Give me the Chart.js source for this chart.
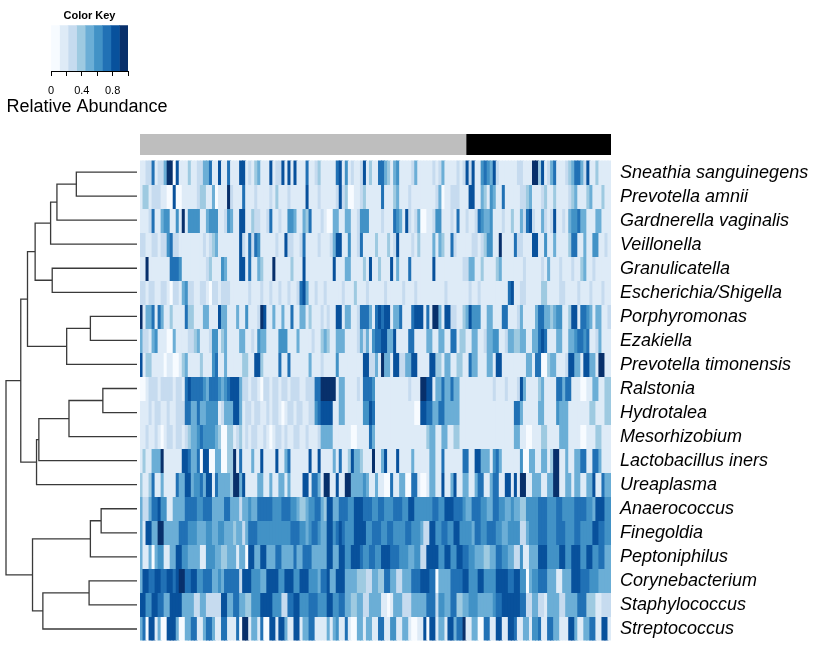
<!DOCTYPE html>
<html>
<head>
<meta charset="utf-8">
<script src="https://cdn.jsdelivr.net/npm/chart.js@4.4.0/dist/chart.umd.min.js"></script>
<style>
  html, body { margin: 0; padding: 0; background: #ffffff; }
  #wrap { position: relative; width: 829px; height: 650px; background: #ffffff; overflow: hidden; }
  canvas { position: absolute; }
</style>
</head>
<body>
<div id="wrap">
  <canvas id="key" width="174" height="121" style="left:0px;top:0px;width:174px;height:121px;"></canvas>
  <canvas id="annot" width="471" height="21" style="left:140px;top:134px;width:471px;height:21px;"></canvas>
  <canvas id="dendro" width="138" height="481" style="left:0px;top:160px;width:138px;height:481px;"></canvas>
  <canvas id="heat" width="689" height="481" style="left:140px;top:160px;width:689px;height:481px;"></canvas>
</div>
<script>
// ---------------- DATA ----------------
const rowLabels = [
  'Sneathia sanguinegens', 'Prevotella amnii', 'Gardnerella vaginalis', 'Veillonella',
  'Granulicatella', 'Escherichia/Shigella', 'Porphyromonas', 'Ezakiella',
  'Prevotella timonensis', 'Ralstonia', 'Hydrotalea', 'Mesorhizobium',
  'Lactobacillus iners', 'Ureaplasma', 'Anaerococcus', 'Finegoldia',
  'Peptoniphilus', 'Corynebacterium', 'Staphylococcus', 'Streptococcus'
];

// relative abundance per sample (columns), one array per taxon (row)
const sneathiaSanguinegens = [.2,.2,.3,.3,.7,.2,.3,.3,.5,.9,.9,.1,.8,.2,.2,.2,.4,.2,.2,.3,.3,.5,.5,.7,.2,.2,.8,.2,.2,.7,.2,
  .2,.2,.8,.8,.2,.3,.2,.4,.5,.2,.2,.2,.8,.2,.3,.3,.8,.2,.8,.2,.8,.2,.2,.2,.7,.2,.2,.3,.4,.2,.2,
  .2,.2,.2,.7,.8,.2,.6,.2,.3,.2,.2,.3,.8,.2,.4,.2,.2,.7,.7,.5,.4,.2,.5,.6,.2,.2,.2,.2,.3,.5,.2,
  .2,.2,.2,.2,.3,.2,.3,.5,.2,.2,.2,.2,.3,.2,.3,.8,.3,.8,.2,.2,.6,.7,.6,.5,.8,.3,.2,.2,.2,.2,.2,
  .2,.3,.3,.2,.2,.2,.9,.9,.4,.8,.2,.3,.5,.7,.2,.2,.2,.3,.4,.5,.7,.7,.5,.3,.8,.2,.2,.4,.2,.2,.2,.2];
const prevotellaAmnii = [.2,.4,.4,.2,.3,.3,.3,.2,.2,.1,.1,.8,.1,.1,.2,.2,.2,.2,.2,.3,.4,.4,.2,.2,.5,.1,.2,.2,.2,.9,.3,
  .2,.2,.2,.7,.2,.2,.2,.3,.2,.2,.2,.2,.3,.2,.4,.2,.2,.2,.3,.2,.2,.2,.2,.2,.8,.2,.2,.2,.3,.2,.2,
  .2,.2,.2,.3,.8,.3,.4,.1,.1,.2,.2,.3,.4,.2,.2,.2,.2,.2,.7,.2,.2,.2,.4,.5,.2,.2,.2,.3,.2,.2,.2,
  .2,.2,.2,.2,.2,.3,.5,.1,.2,.2,.3,.3,.3,.2,.2,.2,.8,.8,.2,.2,.5,.4,.2,.6,.5,.2,.2,.7,.2,.2,.2,
  .2,.2,.3,.3,.4,.5,.2,.2,.2,.3,.4,.2,.2,.4,.2,.2,.2,.2,.3,.4,.5,.2,.2,.2,.4,.5,.2,.2,.2,.4,.2,.2];
const gardnerellaVaginalis = [.2,.2,.2,.3,.7,.2,.2,.5,.6,.6,.2,.2,.6,.2,.9,.2,.6,.6,.6,.6,.2,.2,.5,.6,.6,.6,.2,.2,.3,.6,.5,
  .2,.2,.8,.8,.2,.2,.4,.3,.3,.2,.2,.3,.7,.2,.2,.3,.2,.2,.6,.6,.5,.2,.2,.5,.4,.7,.2,.2,.2,.3,.2,
  .1,.1,.5,.5,.2,.2,.5,.5,.2,.2,.3,.6,.6,.6,.2,.2,.2,.2,.3,.2,.2,.2,.7,.6,.5,.2,.8,.3,.2,.3,.5,
  .1,.1,.2,.2,.3,.6,.6,.2,.2,.2,.3,.2,.7,.2,.2,.3,.2,.2,.3,.7,.6,.5,.5,.6,.2,.2,.2,.3,.2,.2,.4,
  .2,.2,.5,.3,.7,.8,.3,.2,.2,.5,.3,.2,.3,.8,.2,.2,.3,.2,.5,.6,.6,.7,.5,.5,.2,.2,.2,.5,.5,.2,.2,.2];
const veillonella = [.3,.3,.2,.2,.3,.3,.2,.3,.3,.6,.7,.3,.3,.2,.2,.2,.2,.2,.2,.2,.2,.3,.2,.3,.4,.5,.2,.2,.2,.2,.2,
  .2,.2,.8,.3,.2,.7,.3,.7,.6,.2,.2,.2,.2,.2,.3,.2,.2,.8,.3,.3,.2,.2,.3,.7,.2,.2,.2,.2,.3,.2,.2,
  .2,.3,.5,.8,.8,.2,.2,.6,.2,.2,.3,.7,.2,.2,.2,.2,.4,.2,.2,.2,.4,.2,.3,.8,.2,.2,.2,.2,.3,.2,.4,
  .2,.2,.2,.2,.5,.2,.5,.4,.2,.2,.7,.3,.2,.2,.2,.2,.2,.3,.3,.2,.3,.4,.6,.6,.2,.2,.9,.2,.2,.2,.2,
  .7,.3,.3,.2,.2,.2,.8,.8,.2,.2,.6,.2,.2,.5,.2,.2,.2,.2,.4,.7,.7,.2,.2,.5,.2,.2,.6,.6,.2,.2,.3,.2];
const granulicatella = [.2,.2,.9,.2,.2,.2,.2,.2,.2,.2,.7,.7,.7,.6,.2,.2,.2,.2,.2,.2,.2,.2,.3,.4,.2,.2,.2,.6,.5,.2,.2,
  .2,.2,.8,.8,.2,.7,.2,.2,.5,.4,.2,.2,.2,.9,.2,.2,.2,.2,.2,.4,.2,.2,.2,.8,.2,.2,.2,.2,.2,.2,.2,
  .2,.2,.8,.2,.2,.2,.5,.5,.2,.2,.2,.2,.4,.2,.8,.2,.2,.4,.2,.2,.2,.8,.2,.5,.2,.2,.2,.7,.2,.2,.2,
  .2,.2,.2,.2,.8,.2,.2,.2,.2,.2,.2,.2,.2,.2,.3,.3,.5,.5,.2,.2,.4,.2,.2,.2,.2,.4,.5,.2,.2,.2,.2,
  .2,.2,.2,.3,.2,.2,.2,.2,.2,.3,.2,.5,.2,.2,.2,.3,.2,.2,.2,.3,.2,.2,.4,.5,.2,.2,.3,.2,.2,.2,.2,.2];
const escherichiaShigella = [.3,.3,.2,.3,.3,.2,.2,.3,.3,.2,.1,.3,.3,.2,.5,.6,.3,.3,.2,.2,.3,.3,.2,.1,.3,.3,.2,.3,.3,.3,.2,
  .2,.2,.2,.2,.2,.3,.2,.2,.2,.3,.2,.2,.3,.2,.2,.3,.2,.2,.3,.2,.2,.3,.7,.8,.5,.2,.2,.3,.2,.2,.3,
  .2,.2,.2,.2,.2,.3,.2,.2,.2,.4,.2,.2,.2,.3,.2,.2,.2,.2,.2,.3,.2,.2,.2,.2,.2,.3,.2,.2,.2,.3,.2,
  .2,.2,.2,.2,.2,.2,.2,.2,.3,.2,.2,.2,.2,.2,.2,.2,.3,.2,.2,.3,.2,.2,.2,.2,.2,.2,.2,.2,.2,.7,.8,
  .2,.2,.3,.3,.2,.2,.2,.2,.2,.4,.4,.2,.2,.2,.2,.3,.3,.2,.2,.2,.2,.3,.2,.2,.2,.3,.2,.2,.2,.3,.2,.2];
const porphyromonas = [.9,.2,.5,.5,.7,.2,.7,.5,.2,.2,.4,.2,.2,.2,.2,.7,.4,.4,.2,.2,.2,.5,.5,.2,.2,.2,.8,.5,.5,.2,.2,
  .2,.5,.2,.2,.6,.2,.2,.2,.3,.9,.8,.2,.2,.5,.2,.2,.5,.2,.2,.7,.2,.2,.5,.5,.2,.4,.2,.2,.2,.3,.2,
  .3,.2,.2,.8,.8,.2,.5,.5,.2,.2,.3,.7,.7,.7,.5,.2,.7,.8,.7,.8,.8,.2,.5,.5,.7,.2,.2,.2,.7,.8,.8,
  .8,.2,.7,.2,.9,.9,.5,.2,.8,.8,.3,.3,.2,.2,.4,.5,.8,.6,.6,.6,.2,.2,.5,.5,.2,.2,.2,.7,.7,.2,.2,
  .2,.3,.5,.2,.2,.2,.2,.5,.7,.7,.5,.5,.4,.5,.6,.6,.2,.2,.4,.8,.8,.2,.7,.7,.6,.5,.2,.5,.5,.2,.2,.3];
const ezakiella = [.5,.3,.3,.2,.5,.6,.2,.2,.2,.1,.1,.5,.2,.2,.2,.2,.3,.3,.4,.5,.2,.2,.2,.3,.6,.6,.2,.4,.5,.2,.2,
  .2,.2,.5,.5,.2,.2,.3,.2,.6,.5,.5,.2,.2,.2,.2,.6,.6,.6,.2,.2,.2,.5,.2,.2,.2,.2,.3,.2,.2,.4,.5,
  .4,.2,.2,.5,.5,.5,.2,.2,.2,.2,.3,.5,.3,.5,.2,.6,.7,.7,.8,.8,.5,.5,.8,.2,.2,.2,.2,.7,.7,.2,.2,
  .2,.2,.5,.5,.2,.2,.5,.5,.2,.2,.7,.7,.2,.4,.4,.2,.2,.5,.5,.2,.2,.3,.5,.5,.6,.6,.2,.2,.3,.5,.5,
  .4,.4,.5,.5,.2,.2,.5,.5,.7,.8,.7,.2,.2,.2,.5,.5,.2,.2,.5,.5,.6,.7,.7,.6,.7,.2,.2,.3,.5,.2,.2,.2];
const prevotellaTimonensis = [.8,.2,.4,.4,.2,.2,.2,.2,.1,.2,.2,.1,.1,.2,.4,.5,.2,.2,.2,.2,.4,.2,.2,.2,.6,.7,.2,.2,.5,.2,.2,
  .2,.2,.2,.4,.4,.2,.2,.8,.8,.4,.2,.2,.2,.2,.2,.7,.2,.2,.7,.2,.2,.2,.2,.2,.2,.5,.2,.2,.2,.3,.2,
  .2,.2,.2,.6,.2,.2,.2,.2,.2,.2,.2,.2,.8,.8,.3,.3,.5,.2,.9,.5,.5,.2,.8,.8,.3,.3,.5,.5,.8,.8,.2,
  .2,.2,.2,.8,.8,.4,.4,.2,.5,.5,.2,.2,.4,.4,.2,.2,.7,.5,.5,.2,.2,.2,.5,.5,.2,.8,.8,.2,.2,.2,.2,
  .2,.2,.2,.2,.5,.5,.2,.7,.7,.1,.1,.4,.5,.5,.2,.2,.2,.3,.8,.8,.5,.5,.2,.8,.8,.5,.5,.2,.9,.9,.2,.2];
const ralstonia = [.1,.1,.2,.3,.3,.3,.2,.3,.3,.3,.3,.2,.3,.3,.2,.7,.8,.7,.7,.7,.7,.6,.5,.7,.7,.7,.6,.5,.6,.7,.8,
  .8,.8,.5,.3,.3,.2,.3,.3,.2,.1,.3,.3,.2,.3,.3,.2,.3,.3,.2,.3,.3,.3,.2,.2,.3,.3,.3,.7,.7,.9,.9,
  .9,.9,.9,.2,.5,.5,.2,.2,.2,.2,.3,.2,.7,.7,.7,.6,.2,.2,.2,.2,.2,.2,.2,.2,.2,.2,.2,.3,.2,.2,.2,
  .9,.9,.8,.8,.2,.5,.5,.7,.5,.5,.7,.5,.5,.2,.2,.2,.2,.2,.2,.2,.2,.2,.2,.2,.3,.2,.2,.2,.3,.2,.2,
  .2,.3,.8,.5,.2,.2,.2,.2,.4,.5,.2,.2,.2,.2,.7,.7,.5,.7,.7,.2,.2,.2,.1,.1,.2,.2,.5,.5,.2,.2,.4,.4];
const hydrotalea = [.2,.2,.2,.3,.2,.3,.3,.2,.2,.3,.2,.2,.3,.3,.3,.7,.7,.5,.5,.7,.5,.5,.6,.6,.6,.6,.2,.3,.5,.5,.5,
  .8,.8,.5,.2,.3,.3,.2,.3,.3,.2,.2,.3,.2,.3,.3,.2,.1,.2,.3,.3,.2,.3,.3,.2,.2,.3,.3,.6,.7,.8,.8,
  .8,.8,.2,.2,.5,.5,.2,.2,.2,.2,.2,.2,.6,.6,.8,.7,.2,.2,.2,.2,.2,.2,.2,.2,.2,.2,.2,.2,.2,.1,.1,
  .8,.8,.7,.7,.5,.5,.7,.7,.5,.5,.5,.5,.5,.2,.2,.2,.2,.2,.2,.2,.2,.2,.2,.2,.2,.2,.2,.2,.2,.2,.2,
  .7,.7,.5,.2,.2,.2,.2,.2,.5,.5,.2,.2,.2,.2,.6,.5,.5,.5,.2,.2,.2,.2,.2,.2,.2,.4,.4,.2,.2,.2,.4,.4];
const mesorhizobium = [.2,.2,.3,.2,.2,.3,.2,.1,.2,.3,.3,.2,.3,.3,.2,.3,.4,.5,.5,.6,.7,.6,.6,.6,.6,.5,.4,.1,.1,.4,.4,
  .2,.3,.4,.2,.3,.2,.3,.3,.2,.2,.3,.2,.1,.2,.3,.3,.2,.3,.2,.2,.3,.3,.2,.2,.3,.2,.2,.2,.3,.5,.5,
  .5,.5,.2,.2,.2,.2,.2,.2,.1,.1,.2,.2,.2,.2,.7,.5,.2,.2,.2,.2,.2,.2,.2,.2,.2,.2,.2,.2,.2,.2,.2,
  .2,.2,.4,.5,.5,.2,.2,.5,.5,.2,.2,.4,.4,.2,.2,.2,.2,.2,.2,.2,.2,.2,.2,.2,.2,.2,.2,.2,.2,.2,.2,
  .5,.5,.2,.2,.1,.1,.2,.2,.2,.4,.4,.2,.2,.2,.2,.5,.5,.5,.2,.2,.2,.2,.1,.1,.2,.2,.2,.4,.4,.2,.2,.2];
const lactobacillusIners = [.2,.4,.2,.2,.5,.5,.5,.9,.2,.2,.2,.2,.2,.2,.8,.8,.7,.5,.5,.7,.1,.8,.8,.1,.1,.5,.5,.1,.1,.4,.4,
  .9,.2,.7,.2,.2,.2,.5,.2,.2,.8,.2,.2,.2,.2,.8,.2,.2,.5,.7,.2,.2,.2,.2,.2,.2,.8,.2,.2,.8,.2,.2,
  .2,.2,.5,.2,.7,.2,.2,.4,.8,.5,.5,.4,.2,.2,.2,.9,.2,.2,.5,.8,.2,.2,.2,.8,.2,.2,.2,.2,.5,.2,.2,
  .2,.2,.2,.5,.5,.2,.2,.7,.2,.2,.2,.2,.2,.2,.7,.7,.2,.2,.8,.8,.5,.5,.5,.2,.6,.7,.5,.2,.2,.2,.2,
  .2,.2,.6,.1,.1,.5,.5,.2,.2,.5,.5,.2,.4,.9,.9,.2,.2,.5,.2,.2,.5,.5,.7,.7,.2,.2,.7,.7,.5,.2,.2,.2];
const ureaplasma = [.4,.2,.2,.4,.7,.2,.2,.5,.2,.2,.2,.2,.7,.5,.5,.8,.8,.5,.6,.6,.7,.5,.8,.8,.2,.7,.5,.5,.5,.5,.4,
  .9,.9,.5,.8,.2,.2,.2,.2,.5,.5,.2,.2,.5,.2,.2,.5,.5,.2,.5,.2,.2,.2,.2,.8,.8,.2,.7,.7,.5,.2,.9,
  .9,.2,.2,.8,.2,.2,.9,.9,.5,.5,.5,.5,.6,.5,.2,.2,.5,.2,.2,.1,.1,.7,.2,.2,.5,.5,.1,.1,.7,.7,.2,
  .1,.1,.2,.5,.5,.2,.2,.8,.2,.2,.5,.8,.2,.2,.5,.5,.2,.2,.5,.7,.7,.2,.2,.5,.7,.7,.2,.2,.8,.8,.2,
  .8,.2,.9,.9,.2,.2,.5,.5,.5,.2,.2,.5,.5,.9,.9,.2,.2,.5,.5,.2,.5,.5,.2,.2,.5,.5,.8,.2,.2,.7,.5,.5];
const anaerococcus = [.5,.3,.3,.5,.7,.7,.8,.6,.6,.2,.2,.5,.5,.5,.5,.7,.7,.7,.7,.6,.6,.7,.7,.7,.5,.5,.5,.5,.7,.7,.5,
  .5,.5,.3,.5,.5,.6,.5,.5,.7,.7,.7,.7,.7,.6,.6,.6,.7,.7,.7,.6,.6,.5,.4,.4,.5,.6,.6,.7,.7,.5,.4,
  .8,.8,.5,.5,.7,.7,.7,.6,.6,.8,.8,.8,.7,.7,.7,.6,.6,.7,.7,.6,.6,.6,.7,.7,.7,.6,.6,.8,.8,.6,.6,
  .6,.6,.6,.6,.7,.7,.6,.6,.8,.8,.8,.7,.7,.7,.6,.5,.5,.7,.7,.7,.6,.6,.5,.5,.7,.7,.6,.6,.5,.5,.6,
  .5,.5,.4,.4,.6,.6,.6,.6,.7,.7,.7,.6,.6,.6,.7,.7,.6,.6,.6,.6,.7,.7,.7,.7,.6,.6,.5,.8,.8,.8,.6,.6];
const finegoldia = [.5,.2,.8,.8,.5,.5,.9,.9,.5,.5,.5,.5,.5,.7,.7,.7,.6,.6,.6,.5,.5,.5,.6,.6,.5,.5,.6,.6,.5,.5,.5,
  .4,.5,.5,.3,.5,.7,.7,.7,.6,.6,.6,.6,.6,.6,.6,.6,.6,.6,.6,.7,.7,.7,.6,.6,.5,.6,.7,.7,.6,.5,.5,
  .8,.8,.6,.7,.8,.7,.6,.6,.6,.8,.8,.8,.8,.6,.6,.7,.7,.7,.6,.6,.7,.7,.6,.6,.6,.6,.7,.7,.6,.6,.6,
  .5,.3,.3,.8,.8,.6,.6,.7,.7,.6,.6,.8,.8,.6,.6,.6,.6,.5,.7,.7,.6,.6,.7,.7,.7,.6,.6,.5,.5,.6,.6,
  .6,.6,.3,.3,.5,.6,.6,.6,.7,.7,.7,.6,.6,.6,.7,.7,.7,.6,.6,.6,.7,.7,.6,.6,.6,.6,.8,.8,.7,.7,.6,.6];
const peptoniphilus = [.5,.2,.2,.5,.1,.5,.6,.6,.2,.2,.5,.5,.8,.8,.6,.6,.5,.5,.5,.5,.2,.2,.6,.6,.6,.5,.5,.4,.4,.5,.5,
  .5,.2,.5,.5,.1,.8,.8,.5,.5,.8,.8,.5,.5,.5,.7,.7,.5,.5,.5,.5,.7,.5,.5,.7,.7,.7,.5,.5,.5,.5,.5,
  .8,.8,.5,.5,.8,.8,.6,.6,.8,.8,.8,.7,.6,.6,.7,.7,.6,.6,.8,.8,.8,.7,.7,.7,.6,.6,.6,.5,.5,.6,.6,
  .3,.3,.8,.8,.8,.8,.6,.6,.8,.8,.6,.6,.8,.8,.7,.7,.6,.6,.5,.5,.5,.4,.4,.5,.5,.7,.7,.6,.6,.5,.5,
  .3,.3,.6,.2,.2,.5,.5,.5,.8,.8,.8,.6,.6,.6,.6,.8,.8,.6,.6,.8,.8,.8,.6,.6,.8,.8,.6,.6,.7,.7,.5,.5];
const corynebacterium = [.5,.8,.8,.7,.7,.8,.8,.7,.7,.8,.8,.7,.8,.9,.9,.7,.7,.8,.8,.6,.6,.7,.7,.7,.5,.5,.6,.5,.7,.7,.7,
  .7,.7,.3,.8,.8,.8,.6,.6,.6,.5,.5,.8,.8,.8,.8,.6,.6,.8,.8,.8,.6,.6,.8,.8,.8,.6,.6,.6,.5,.7,.7,
  .8,.5,.5,.8,.8,.8,.5,.5,.5,.5,.4,.4,.4,.3,.3,.5,.5,.4,.4,.7,.7,.5,.5,.3,.3,.5,.5,.5,.7,.7,.7,
  .8,.8,.8,.7,.7,.1,.5,.5,.5,.5,.7,.7,.7,.7,.8,.8,.6,.6,.6,.8,.8,.6,.6,.6,.6,.8,.8,.8,.8,.7,.7,
  .8,.8,.6,.6,.1,.5,.6,.6,.7,.7,.7,.5,.5,.5,.2,.2,.5,.5,.5,.8,.8,.8,.7,.7,.7,.6,.6,.6,.5,.5,.5,.5];
const staphylococcus = [.8,.8,.6,.6,.8,.8,.7,.7,.5,.5,.8,.8,.8,.8,.5,.5,.5,.5,.3,.3,.5,.5,.3,.3,.3,.3,.3,.8,.8,.5,.5,
  .7,.7,.5,.5,.4,.4,.6,.6,.6,.8,.8,.8,.8,.6,.6,.6,.3,.3,.7,.7,.8,.8,.6,.6,.6,.7,.7,.7,.6,.6,.6,
  .8,.8,.6,.6,.7,.7,.5,.5,.4,.4,.5,.5,.3,.3,.5,.5,.5,.5,.2,.2,.1,.2,.5,.5,.5,.3,.3,.3,.5,.5,.5,
  .5,.5,.7,.7,.7,.3,.6,.6,.5,.5,.7,.7,.4,.4,.5,.5,.6,.6,.6,.5,.5,.5,.5,.5,.6,.7,.7,.8,.8,.8,.8,
  .8,.8,.7,.7,.3,.3,.5,.5,.3,.3,.2,.5,.5,.5,.5,.3,.3,.5,.5,.5,.5,.7,.7,.7,.4,.4,.4,.2,.2,.3,.3,.3];
const streptococcus = [.5,.7,.1,.8,.8,.2,.5,.1,.1,.8,.8,.8,.5,.1,.1,.5,.5,.7,.7,.2,.2,.5,.7,.7,.5,.2,.2,.7,.7,.2,.2,
  .2,.7,.1,.9,.9,.2,.5,.5,.2,.7,.1,.1,.8,.8,.2,.8,.8,.5,.2,.2,.8,.8,.2,.5,.5,.7,.7,.2,.2,.2,.2,
  .5,.2,.5,.6,.2,.2,.7,.2,.1,.1,.5,.5,.2,.5,.5,.2,.2,.7,.7,.2,.2,.6,.6,.2,.2,.5,.5,.2,.1,.1,.2,
  .2,.8,.1,.8,.8,.2,.5,.5,.2,.8,.8,.5,.7,.7,.9,.2,.2,.5,.5,.1,.1,.7,.7,.2,.2,.8,.8,.2,.2,.8,.8,
  .7,.2,.2,.5,.5,.2,.6,.6,.7,.2,.2,.7,.7,.5,.5,.2,.2,.2,.8,.8,.5,.2,.2,.5,.5,.7,.7,.2,.2,.8,.8,.2];

const rowValues = [
  sneathiaSanguinegens, prevotellaAmnii, gardnerellaVaginalis, veillonella,
  granulicatella, escherichiaShigella, porphyromonas, ezakiella,
  prevotellaTimonensis, ralstonia, hydrotalea, mesorhizobium,
  lactobacillusIners, ureaplasma, anaerococcus, finegoldia,
  peptoniphilus, corynebacterium, staphylococcus, streptococcus
];

// sample groups (column side colour bar)
const groupSizes = [108, 48];
const groupColors = ['#BEBEBE', '#000000'];

// row dendrogram, hclust style: negative = leaf (1-based row), positive = earlier merge
const dendroMerges = [
  [-1, -2, 0.604], [1, -3, 0.797], [2, -4, 0.860], [-5, -6, 0.844],
  [3, 4, 1.014], [-7, -8, 0.464], [6, -9, 0.700], [5, 7, 1.090],
  [-10, -11, 0.340], [9, -12, 0.677], [10, -13, 0.977], [11, -14, 1.000],
  [8, 12, 1.157], [-15, -16, 0.357], [14, -17, 0.464], [-18, -19, 0.477],
  [16, -20, 0.937], [15, 17, 1.040], [13, 18, 1.304]
];

// colour key
const palette = ['#F7FBFF', '#DEEBF7', '#C6DBEF', '#9ECAE1', '#6BAED6', '#4292C6', '#2171B5', '#08519C', '#08306B'];
const keyBreaks = [0, 0.111, 0.222, 0.333, 0.444, 0.556, 0.667, 0.778, 0.889, 1];
const keyTickLabels = ['0', '', '0.4', '', '0.8', ''];

// ---------------- DRAWING ----------------
const FONT = "'Liberation Sans', Arial, Helvetica, sans-serif";
Chart.defaults.font.family = FONT;
Chart.defaults.color = '#000';

function binColor(v) {
  let k = Math.floor(v * (palette.length) + 1e-9);
  if (k < 0) k = 0;
  if (k > palette.length - 1) k = palette.length - 1;
  return palette[k];
}

const nCols = Math.max(...rowValues.map(r => r.length));
const sampleIds = Array.from({ length: nCols }, (_, i) => 'S' + (i + 1));

const common = {
  responsive: false,
  animation: false,
  events: [],
  plugins: { legend: { display: false }, tooltip: { enabled: false } }
};

// Heatmap
new Chart(document.getElementById('heat'), {
  type: 'bar',
  data: {
    labels: sampleIds,
    datasets: rowValues.map((vals, r) => ({
      label: rowLabels[r],
      data: vals.map(() => [r, r + 1]),
      backgroundColor: vals.map(binColor),
      borderWidth: 0,
      barPercentage: 1,
      categoryPercentage: 1,
      grouped: false,
      inflateAmount: 0.5
    }))
  },
  options: {
    ...common,
    layout: { padding: 0 },
    scales: {
      x: { display: false },
      y: {
        type: 'linear',
        position: 'right',
        min: 0, max: rowLabels.length,
        reverse: true,
        grid: { display: true, drawOnChartArea: false, drawTicks: true, tickLength: 9, color: 'rgba(0,0,0,0)' },
        border: { display: false },
        afterBuildTicks: (s) => { s.ticks = rowLabels.map((_, i) => ({ value: i + 0.5 })); },
        afterFit: (s) => { s.width = 218; },
        ticks: {
          autoSkip: false,
          padding: 0,
          color: '#000',
          font: { family: FONT, size: 18, style: 'italic', lineHeight: '1px' },
          callback: (v, i) => rowLabels[i]
        }
      }
    }
  }
});

// Dendrogram
function buildDendro(merges) {
  const nodes = [];
  const pts = [];
  const pos = (id) => id < 0 ? { h: 0, y: -id - 1 } : nodes[id - 1];
  merges.forEach(([a, b, h]) => {
    const A = pos(a), B = pos(b);
    pts.push({ x: A.h, y: A.y }, { x: h, y: A.y }, { x: h, y: B.y }, { x: B.h, y: B.y }, { x: null, y: null });
    nodes.push({ h: h, y: (A.y + B.y) / 2 });
  });
  return pts;
}
const maxH = Math.max(...dendroMerges.map(m => m[2]));
new Chart(document.getElementById('dendro'), {
  type: 'scatter',
  data: {
    datasets: [{
      data: buildDendro(dendroMerges),
      showLine: true,
      spanGaps: false,
      borderColor: '#3a3a3a',
      borderWidth: 1.3,
      pointRadius: 0,
      tension: 0,
      clip: false
    }]
  },
  options: {
    ...common,
    layout: { padding: { left: 6, right: 1, top: 0, bottom: 0 } },
    scales: {
      x: { type: 'linear', min: 0, max: maxH, reverse: true, display: false },
      y: { type: 'linear', min: -0.5, max: rowLabels.length - 0.5, reverse: true, display: false }
    }
  }
});

// Column side colours
new Chart(document.getElementById('annot'), {
  type: 'bar',
  data: {
    labels: [''],
    datasets: groupSizes.map((n, g) => ({
      data: [n],
      backgroundColor: groupColors[g],
      borderWidth: 0,
      barPercentage: 1,
      categoryPercentage: 1,
      inflateAmount: 0.3
    }))
  },
  options: {
    ...common,
    indexAxis: 'y',
    layout: { padding: 0 },
    scales: {
      x: { type: 'linear', stacked: true, min: 0, max: groupSizes.reduce((a, b) => a + b, 0), display: false },
      y: { stacked: true, display: false }
    }
  }
});

// Colour key
const hiddenSide = (w, pos) => ({
  display: true,
  position: pos,
  grid: { display: false, drawTicks: false },
  border: { display: false },
  ticks: { display: false },
  afterFit: (s) => { s.width = w; }
});
new Chart(document.getElementById('key'), {
  type: 'bar',
  data: {
    labels: [''],
    datasets: palette.map((c, k) => ({
      data: [[keyBreaks[k], keyBreaks[k + 1]]],
      backgroundColor: c,
      borderWidth: 0,
      barPercentage: 1,
      categoryPercentage: 1,
      grouped: false,
      inflateAmount: 0.3
    }))
  },
  options: {
    ...common,
    indexAxis: 'y',
    layout: { padding: { left: 0, right: 0, top: 9, bottom: 3 } },
    plugins: {
      legend: { display: false },
      tooltip: { enabled: false },
      title: {
        display: true,
        text: 'Color Key',
        fullSize: false,
        color: '#000',
        font: { family: FONT, size: 11, weight: 'bold' },
        padding: { top: 0, bottom: 3 }
      },
      subtitle: {
        display: true,
        position: 'bottom',
        fullSize: true,
        text: 'Relative Abundance',
        color: '#000',
        font: { family: FONT, size: 18 },
        padding: { top: 0, bottom: 0 }
      }
    },
    scales: {
      x: {
        type: 'linear',
        min: 0, max: 1,
        grid: { drawOnChartArea: false, drawTicks: true, tickLength: 5, color: '#000', lineWidth: 1 },
        border: { display: true, color: '#000', width: 1 },
        afterFit: (s) => { s.height = 25.4; },
        ticks: {
          stepSize: 0.2,
          autoSkip: false,
          maxRotation: 0,
          padding: 14,
          color: '#000',
          font: { family: FONT, size: 11, lineHeight: '1px' },
          callback: (v, i) => keyTickLabels[i]
        }
      },
      y: hiddenSide(51, 'left'),
      yRight: Object.assign({ type: 'linear' }, hiddenSide(46, 'right'))
    }
  }
});
</script>
</body>
</html>
